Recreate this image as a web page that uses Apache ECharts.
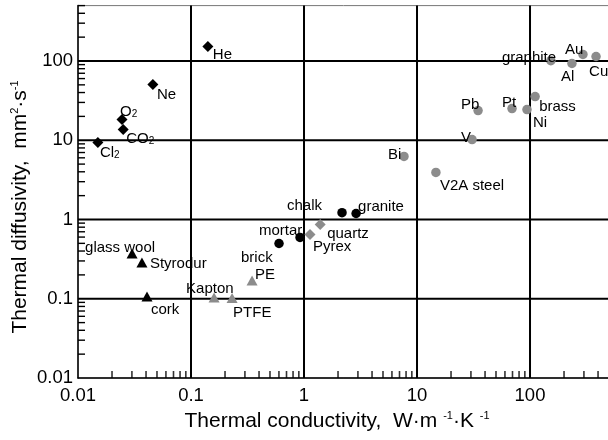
<!DOCTYPE html>
<html><head><meta charset="utf-8">
<script src="https://cdn.jsdelivr.net/npm/echarts@6/dist/echarts.min.js"></script>
<style>html,body{margin:0;padding:0;background:#fff}#c{width:608px;height:440px}</style>
</head><body><div id="c"></div>
<script>
// ---- data ----
const tickValues = [0.01, 0.1, 1, 10, 100];
const tickLabels = ['0.01', '0.1', '1', '10', '100'];
const axisMin = 0.01, axisMax = 500;

const gasNames = ['He', 'Ne', 'O2', 'CO2', 'Cl2'];
const gasK = [0.141, 0.046, 0.0245, 0.0251, 0.0150];
const gasA = [152, 50.5, 18.3, 13.7, 9.4];

const foamNames = ['glass wool', 'Styrodur', 'cork'];
const foamK = [0.0301, 0.0368, 0.0408];
const foamA = [0.372, 0.287, 0.107];

const polymerNames = ['Kapton', 'PTFE', 'PE'];
const polymerK = [0.160, 0.231, 0.347];
const polymerA = [0.104, 0.102, 0.170];

const mineralNames = ['brick', 'mortar', 'chalk', 'granite'];
const mineralK = [0.601, 0.922, 2.17, 2.89];
const mineralA = [0.498, 0.593, 1.22, 1.19];

const glassNames = ['Pyrex', 'quartz'];
const glassK = [1.13, 1.39];
const glassA = [0.647, 0.865];

const metalNames = ['Bi', 'V2A steel', 'V', 'Pb', 'Pt', 'Ni', 'brass', 'graphite', 'Al', 'Au', 'Cu'];
const metalK = [7.67, 14.7, 30.7, 34.7, 69.3, 94.0, 111, 153, 235, 294, 384];
const metalA = [6.24, 3.92, 10.2, 23.7, 25.1, 24.4, 35.6, 101, 93, 121, 114];

// minor tick multipliers for log axes
const minorMult = [2, 3, 4, 5, 6, 7, 8, 9];

// ---- layout / style (kept apart from data) ----
const FONT = '"Liberation Sans", Arial, Helvetica, sans-serif';
const GRAY = '#8c8c8c';
const MINOR_LEN = 7;
const labelText = { O2: '{m|O}{s|2}', CO2: '{m|CO}{s|2}', Cl2: '{m|Cl}{s|2}' };
const labelOffset = {
  'He': [5, 8], 'Ne': [4, 10], 'O2': [-2, -8], 'CO2': [3, 9], 'Cl2': [2, 10],
  'glass wool': [-47, -6], 'Styrodur': [8, 1], 'cork': [4, 13],
  'Kapton': [-28, -9], 'PTFE': [1, 15], 'PE': [3, -6],
  'brick': [-38, 14], 'mortar': [-41, -7], 'chalk': [-55, -7], 'granite': [2, -7],
  'Pyrex': [3, 12], 'quartz': [7, 9],
  'Bi': [-16, -2], 'V2A steel': [4, 13], 'V': [-11, -2], 'Pb': [-17, -6], 'Pt': [-10, -6],
  'Ni': [6, 13], 'brass': [4, 10], 'graphite': [-49, -3], 'Al': [-11, 13], 'Au': [-18, -5], 'Cu': [-7, 15]
};

function items(names, K, A) {
  return names.map((n, i) => ({
    value: [K[i], A[i]], name: n,
    label: { offset: labelOffset[n] || [4, 0] }
  }));
}

const labelBase = {
  show: true, position: 'inside', align: 'left', verticalAlign: 'middle',
  color: '#000', fontSize: 15, fontFamily: FONT,
  formatter: p => labelText[p.name] || p.name,
  rich: {
    m: { fontSize: 15, lineHeight: 15, verticalAlign: 'top', fontFamily: FONT, color: '#000' },
    s: { fontSize: 10, lineHeight: 10, verticalAlign: 'bottom', padding: [9.5, 0, 0, 0], fontFamily: FONT, color: '#000' }
  }
};

function scatter(name, data, symbol, size, color) {
  return {
    type: 'scatter', name, data, symbol, symbolSize: size, z: 5, silent: true,
    itemStyle: { color, opacity: 1 }, label: labelBase
  };
}

// minor tick positions (axis decoration)
const minorVals = [];
tickValues.forEach(d => minorMult.forEach(m => { const v = d * m; if (v <= axisMax * 1.0001) minorVals.push(v); }));

// grid lines through the axes
const gridDecor = [];
tickValues.slice(1).forEach(v => { gridDecor.push({ k: 'v', v }); gridDecor.push({ k: 'h', v }); });
function renderGrid(params, api) {
  const d = gridDecor[params.dataIndex];
  let a, b;
  if (d.k === 'v') { a = api.coord([d.v, axisMin]); b = api.coord([d.v, axisMax]); }
  else { a = api.coord([axisMin, d.v]); b = api.coord([axisMax, d.v]); }
  return { type: 'line', shape: { x1: a[0], y1: a[1], x2: b[0], y2: b[1] },
           style: { stroke: '#000', lineWidth: 2 } };
}

function fmt(v) {
  for (let i = 0; i < tickValues.length; i++) {
    if (Math.abs(Math.log10(v) - Math.log10(tickValues[i])) < 1e-6) return tickLabels[i];
  }
  return '';
}

const titleGraphics = [
  {
    type: 'text', x: 337, y: 421, z: 10, silent: true,
    style: {
      text: '{t|Thermal conductivity,  W·m }{p|-1}{t|·K }{p|-1}',
      align: 'center', verticalAlign: 'middle', fill: '#000',
      rich: {
        t: { fontSize: 21, lineHeight: 21, padding: [7, 0, 0, 0], verticalAlign: 'bottom', fontFamily: FONT, fill: '#000', color: '#000' },
        p: { fontSize: 11, lineHeight: 11, verticalAlign: 'top', fontFamily: FONT, fill: '#000', color: '#000' }
      }
    }
  },
  {
    type: 'text', x: 20, y: 207, rotation: Math.PI / 2, z: 10, silent: true,
    style: {
      text: '{t|Thermal diffusivity,  mm}{p|2}{t|·s}{p|-1}',
      align: 'center', verticalAlign: 'middle', fill: '#000',
      rich: {
        t: { fontSize: 21, lineHeight: 21, padding: [5, 0, 0, 0], verticalAlign: 'bottom', fontFamily: FONT, fill: '#000', color: '#000' },
        p: { fontSize: 11, lineHeight: 11, verticalAlign: 'top', fontFamily: FONT, fill: '#000', color: '#000' }
      }
    }
  }
];

const chart = echarts.init(document.getElementById('c'), null, { renderer: 'canvas' });
chart.setOption({
  animation: false,
  backgroundColor: '#fff',
  textStyle: { fontFamily: FONT },
  grid: { left: 78, top: 5.6, width: 531, height: 372.4, containLabel: false, outerBoundsMode: 'none',
          show: true, borderColor: '#777', borderWidth: 1, backgroundColor: 'transparent' },
  xAxis: {
    type: 'log', logBase: 10, min: axisMin, max: axisMax,
    axisLine: { show: true, lineStyle: { color: '#000', width: 1.5 } },
    axisTick: { show: false }, splitLine: { show: false },
    axisLabel: { color: '#000', fontSize: 18.5, fontFamily: FONT, margin: 8, formatter: fmt, showMaxLabel: false }
  },
  yAxis: {
    type: 'log', logBase: 10, min: axisMin, max: axisMax,
    axisLine: { show: true, lineStyle: { color: '#000', width: 1.5 } },
    axisTick: { show: false }, splitLine: { show: false },
    axisLabel: { color: '#000', fontSize: 18.5, fontFamily: FONT, margin: 5, formatter: fmt, showMaxLabel: false }
  },
  graphic: titleGraphics,
  series: [
    { type: 'custom', z: 2, clip: false, silent: true, data: gridDecor.map(() => [1, 1]), renderItem: renderGrid },
    { type: 'scatter', z: 3, silent: true, clip: false, symbol: 'rect', symbolSize: [1.6, MINOR_LEN], symbolOffset: [0, -MINOR_LEN / 2],
      itemStyle: { color: '#000' }, data: minorVals.map(v => [v, axisMin]) },
    scatter('gases', items(gasNames, gasK, gasA), 'diamond', 11, '#000'),
    scatter('foams', items(foamNames, foamK, foamA), 'triangle', [11, 10], '#000'),
    scatter('polymers', items(polymerNames, polymerK, polymerA), 'triangle', [11, 10], GRAY),
    scatter('minerals', items(mineralNames, mineralK, mineralA), 'circle', 9.5, '#000'),
    scatter('glasses', items(glassNames, glassK, glassA), 'diamond', 11, GRAY),
    scatter('metals', items(metalNames, metalK, metalA), 'circle', 9.5, GRAY)
  ]
});

// y-axis minor ticks: positioned through the chart's own y scale
const yTickGraphics = minorVals.map(v => {
  const p = chart.convertToPixel({ gridIndex: 0 }, [axisMin, v]);
  return {
    type: 'line', z: 4, silent: true,
    shape: { x1: p[0], y1: p[1], x2: p[0] + MINOR_LEN, y2: p[1] },
    style: { stroke: '#000', lineWidth: 1.4 }
  };
});
chart.setOption({ graphic: titleGraphics.concat(yTickGraphics) });
</script></body></html>
